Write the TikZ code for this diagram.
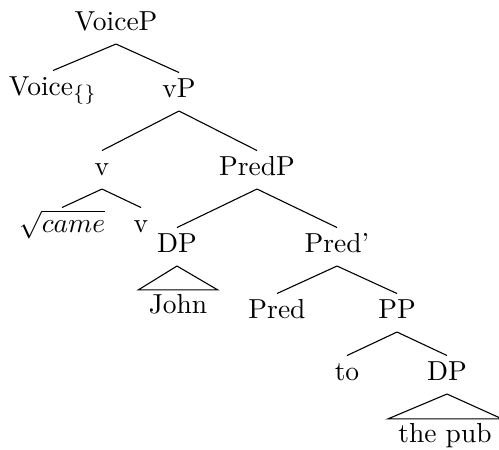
\documentclass[tikz,border=0pt]{standalone}
\usepackage{amsmath}
\usepackage{amssymb}
\usepackage{tikz}
\begin{document}
\begin{tikzpicture}[x=0.3636pt,y=-0.3636pt,
                    cat/.style={anchor=base,inner sep=0pt,text height=8.7pt,text depth=4.9pt},
                    leaf/.style={anchor=base,inner ysep=0pt,inner xsep=3.6pt,text height=8.2pt,text depth=0pt},
                    branch/.style={thin}]
                    \useasboundingbox (0,0) rectangle (499,450);

                    \node[cat] (VoiceP) at (116,30) {VoiceP};
                    \node[cat] (Voice) at (53,95) {Voice$_{\{\}}$};
                    \node[cat] (vP) at (179,97) {vP};
                    \node[cat] (v) at (102,175) {v};
                    \node[cat] (PredP) at (257,175) {PredP};
                    \node[cat] (came) at (62,232) {$\sqrt{came}$};
                    \node[cat] (vhead) at (141,232) {v};
                    \node[cat] (DPsubj) at (177,252) {DP};
                    \node[cat] (Predbar) at (337,252) {Pred'};
                    \node[leaf] (John) at (178,313) {John};
                    \node[cat] (Pred) at (277,318) {Pred};
                    \node[cat] (PP) at (397,318) {PP};
                    \node[cat] (to) at (347,380) {to};
                    \node[cat] (DPobj) at (447,380) {DP};
                    \node[leaf] (pub) at (445,442) {the pub};

                    \draw[branch] (VoiceP.south) -- (Voice.north);
                    \draw[branch] (VoiceP.south) -- (vP.north);
                    \draw[branch] (vP.south) -- (v.north);
                    \draw[branch] (vP.south) -- (PredP.north);
                    \draw[branch] (v.south) -- (came.north);
                    \draw[branch] (v.south) -- (vhead.north);
                    \draw[branch] (PredP.south) -- (DPsubj.north);
                    \draw[branch] (PredP.south) -- (Predbar.north);
                    \draw[branch] (DPsubj.south) -- (John.north west) -- (John.north east) -- cycle;
                    \draw[branch] (Predbar.south) -- (Pred.north);
                    \draw[branch] (Predbar.south) -- (PP.north);
                    \draw[branch] (PP.south) -- (to.north);
                    \draw[branch] (PP.south) -- (DPobj.north);
                    \draw[branch] (DPobj.south) -- (pub.north west) -- (pub.north east) -- cycle;
                \end{tikzpicture}
\end{document}
